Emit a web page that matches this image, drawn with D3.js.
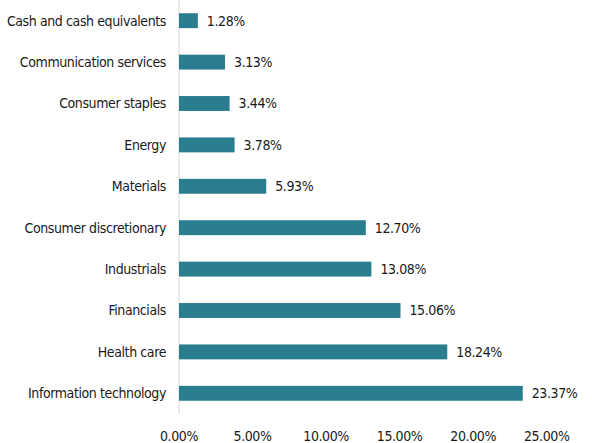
<!DOCTYPE html>
<html>
<head>
<meta charset="utf-8">
<script src="https://cdn.jsdelivr.net/npm/d3@7"></script>
<style>
  body { margin: 0; background: #fff; }
  text { font-family: "Liberation Sans Narrow", "DejaVu Sans Condensed", "DejaVu Sans", sans-serif; font-stretch: condensed; fill: #1a1a1a; font-size: 14px; letter-spacing: -0.4px; }
</style>
</head>
<body>
<div id="chart"></div>
<script>
var categories = ["Cash and cash equivalents", "Communication services", "Consumer staples", "Energy", "Materials",
  "Consumer discretionary", "Industrials", "Financials", "Health care", "Information technology"];
var values = [1.28, 3.13, 3.44, 3.78, 5.93, 12.70, 13.08, 15.06, 18.24, 23.37];
var ticks = [0, 5, 10, 15, 20, 25];

var width = 592, height = 443;
var marginLeft = 179, plotRight = 546.7, plotTop = 0, plotBottom = 414;

var svg = d3.select("#chart").append("svg")
  .attr("width", width)
  .attr("height", height);

var x = d3.scaleLinear().domain([0, 25]).range([marginLeft, plotRight]);
var y = d3.scaleBand().domain(categories).range([plotTop, plotBottom]).paddingInner(0.64).paddingOuter(0.32);

// axis line
svg.append("line")
  .attr("x1", marginLeft).attr("x2", marginLeft)
  .attr("y1", 0).attr("y2", plotBottom)
  .attr("stroke", "#d9d9d9").attr("stroke-width", 1);

svg.selectAll(".bar")
  .data(values)
  .enter().append("rect")
  .attr("class", "bar")
  .attr("x", marginLeft)
  .attr("y", function (d, i) { return y(categories[i]); })
  .attr("width", function (d) { return x(d) - marginLeft; })
  .attr("height", y.bandwidth())
  .attr("fill", "#2a7d8f");

svg.selectAll(".val")
  .data(values)
  .enter().append("text")
  .attr("class", "val")
  .attr("x", function (d) { return x(d) + 9; })
  .attr("y", function (d, i) { return y(categories[i]) + y.bandwidth() / 2; })
  .attr("dy", "0.35em")
  .text(function (d) { return d.toFixed(2) + "%"; });

svg.selectAll(".cat")
  .data(categories)
  .enter().append("text")
  .attr("class", "cat")
  .attr("x", marginLeft - 13)
  .attr("y", function (d) { return y(d) + y.bandwidth() / 2; })
  .attr("dy", "0.35em")
  .attr("text-anchor", "end")
  .text(function (d) { return d; });

svg.selectAll(".tick")
  .data(ticks)
  .enter().append("text")
  .attr("class", "tick")
  .attr("x", function (d) { return x(d); })
  .attr("y", 436)
  .attr("dy", "0.35em")
  .attr("text-anchor", "middle")
  .text(function (d) { return d.toFixed(2) + "%"; });
</script>
</body>
</html>
